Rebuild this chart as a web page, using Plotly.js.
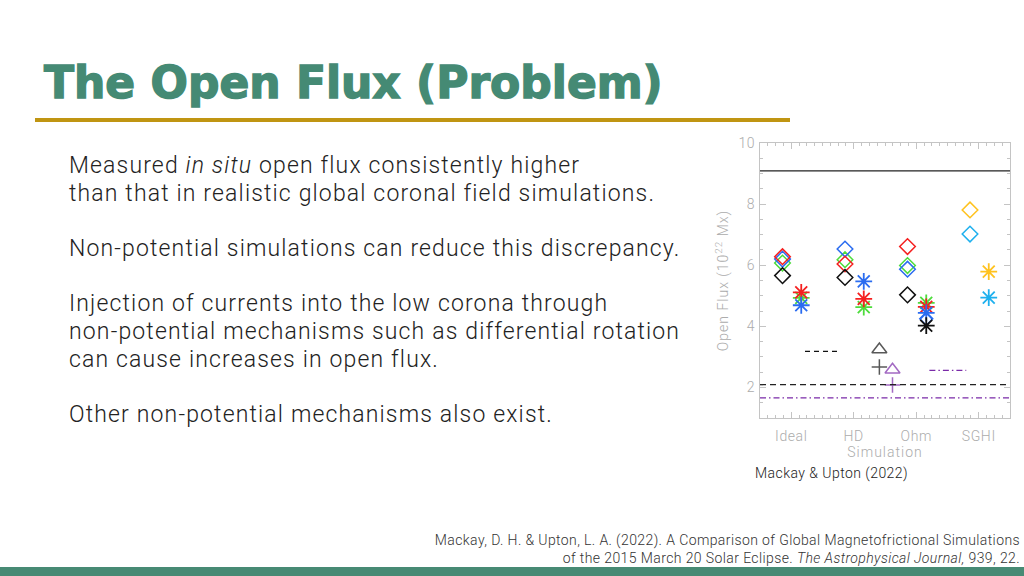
<!DOCTYPE html>
<html><head><meta charset="utf-8">
<script src="https://cdn.plot.ly/plotly-3.0.1.min.js"></script>
<style>
html,body{margin:0;padding:0;background:#fff;}
#slide{position:relative;width:1024px;height:576px;overflow:hidden;}
#chart{position:absolute;left:0;top:0;width:1024px;height:576px;}
.txt{position:absolute;z-index:2;white-space:nowrap;margin:0;}
#title{left:44px;top:57px;font-family:'DejaVu Sans',sans-serif;font-weight:bold;font-size:44px;line-height:52px;
  color:#458a74;-webkit-text-stroke:1.4px #458a74;}
#body{left:69px;top:152px;font-family:Roboto,sans-serif;font-weight:300;font-size:23px;line-height:27.67px;
  color:#222;letter-spacing:1.15px;}
#caption{left:755px;top:464px;font-family:Roboto,sans-serif;font-weight:300;font-size:14px;line-height:18px;
  color:#222;letter-spacing:0.45px;}
#cite{right:4px;top:531px;text-align:right;font-family:Roboto,sans-serif;font-weight:300;font-size:14px;
  line-height:18px;color:#333;letter-spacing:0.4px;}
#chart .xtick text, #chart .ytick text{letter-spacing:0.6px;}
#chart .xtitle, #chart .ytitle{letter-spacing:1px;}
</style>
</head><body>
<div id="slide">
<div id="chart"></div>
<div id="title" class="txt">The Open Flux (Problem)</div>
<div id="body" class="txt">Measured <i>in situ</i> open flux consistently higher<br>than that in realistic global coronal field simulations.<br><br>Non-potential simulations can reduce this discrepancy.<br><br>Injection of currents into the low corona through<br>non-potential mechanisms such as differential rotation<br>can cause increases in open flux.<br><br>Other non-potential mechanisms also exist.</div>
<div id="caption" class="txt">Mackay &amp; Upton (2022)</div>
<div id="cite" class="txt">Mackay, D. H. &amp; Upton, L. A. (2022). A Comparison of Global Magnetofrictional Simulations<br>of the 2015 March 20 Solar Eclipse. <i>The Astrophysical Journal,</i> 939, 22.</div>
</div>
<script>
// ---- data ----
const categories = ['Ideal', 'HD', 'Ohm', 'SGHI'];
// diamonds (left of each category)
const diamondRed    = [6.28, 6.04, 6.61, null];
const diamondBlue   = [6.20, 6.53, 5.87, null];
const diamondGreen  = [6.07, 6.18, 5.99, null];
const diamondBlack  = [5.66, 5.60, 5.03, null];
const diamondOrange = [null, null, null, 7.81];
const diamondCyan   = [null, null, null, 7.02];
// asterisks (right of each category)
const starRed    = [5.11, 4.90, 4.64, null];
const starGreen  = [4.93, 4.63, 4.77, null];
const starBlue   = [4.69, 5.47, 4.44, null];
const starBlack  = [null, null, 4.02, null];
const starOrange = [null, null, null, 5.79];
const starCyan   = [null, null, null, 4.94];
const smallDiamondBlue = [null, null, 4.25, null];
// observational estimates
const solidLevel   = 9.09;
const dashedLevel  = 2.09;
const dashDotLevel = 1.66;
const shortDashLevel = 3.18;
const shortDashRange = [0.22, 0.75];
const shortDashDotLevel = 2.56;
const shortDashDotRange = [2.21, 2.80];
const triangleBlack = 3.24, plusBlack = 2.67;
const trianglePurple = 2.58, plusPurple = 2.08;

const W = 1024, H = 576;
const px = v => v / W, py = v => 1 - v / H;
const leftOff = -0.14, rightOff = 0.16, obsX1 = 1.41, obsX2 = 1.62;

function pts(vals, off, symbol, color, size, lw) {
  return {
    type: 'scatter', mode: 'markers', hoverinfo: 'skip',
    x: categories.map((c, i) => i + off), y: vals,
    marker: {symbol: symbol, size: size, color: color, line: {color: color, width: lw}}
  };
}
function starPts(vals, color) {
  return {
    type: 'scatter', mode: 'markers', hoverinfo: 'skip',
    x: categories.map((c, i) => i + rightOff), y: vals,
    marker: {symbol: 'asterisk-open', size: 14, color: color, line: {color: color, width: 1.8}}
  };
}
const RED = '#f52020', BLUE = '#2a6cf0', GREEN = '#4ddc3c', BLACK = '#111111',
      ORANGE = '#ffc21e', CYAN = '#1eb0ee', PURPLE = '#7a2aa8';

const traces = [
  pts(diamondGreen, leftOff, 'diamond-open', GREEN, 12, 1.5),
  pts(diamondBlue, leftOff, 'diamond-open', BLUE, 12, 1.5),
  pts(diamondRed, leftOff, 'diamond-open', RED, 12, 1.5),
  pts(diamondBlack, leftOff, 'diamond-open', BLACK, 12, 1.5),
  pts(diamondOrange, leftOff, 'diamond-open', ORANGE, 12, 1.5),
  pts(diamondCyan, leftOff, 'diamond-open', CYAN, 12, 1.5),
  starPts(starGreen, GREEN),
  starPts(starRed, RED),
  starPts(starBlue, BLUE),
  pts(smallDiamondBlue, rightOff, 'diamond-open', BLUE, 10, 1.5),
  starPts(starBlack, BLACK),
  starPts(starOrange, ORANGE),
  starPts(starCyan, CYAN),
  {type: 'scatter', mode: 'lines', hoverinfo: 'skip', x: shortDashRange, y: [shortDashLevel, shortDashLevel],
   line: {color: BLACK, width: 1.2, dash: '5px,4px'}},
  {type: 'scatter', mode: 'lines', hoverinfo: 'skip', x: shortDashDotRange, y: [shortDashDotLevel, shortDashDotLevel],
   line: {color: PURPLE, width: 1.2, dash: '6px,3px,1.5px,3px'}},
  {type: 'scatter', mode: 'markers', hoverinfo: 'skip', x: [obsX1, obsX1], y: [triangleBlack, plusBlack],
   marker: {symbol: ['triangle-up-open', 'cross-thin-open'], size: [13, 11], color: BLACK, line: {color: BLACK, width: 1.5}}},
  {type: 'scatter', mode: 'markers', hoverinfo: 'skip', x: [obsX2, obsX2], y: [trianglePurple, plusPurple],
   marker: {symbol: ['triangle-up-open', 'cross-thin-open'], size: [13, 11], color: PURPLE, line: {color: PURPLE, width: 1.5}}}
];

const shapes = [
  {type: 'rect', xref: 'paper', yref: 'paper', x0: px(35), x1: px(790), y0: py(122), y1: py(118),
   fillcolor: '#c09512', line: {width: 0}},
  {type: 'rect', xref: 'paper', yref: 'paper', x0: 0, x1: 1, y0: 0, y1: py(567),
   fillcolor: '#478a74', line: {width: 0}},
  {type: 'line', xref: 'x', yref: 'y', x0: -0.5, x1: 3.5, y0: solidLevel, y1: solidLevel,
   line: {color: '#222', width: 1.3}},
  {type: 'line', xref: 'x', yref: 'y', x0: -0.5, x1: 3.5, y0: dashedLevel, y1: dashedLevel,
   line: {color: '#222', width: 1.3, dash: '6px,4px'}},
  {type: 'line', xref: 'x', yref: 'y', x0: -0.5, x1: 3.5, y0: dashDotLevel, y1: dashDotLevel,
   line: {color: PURPLE, width: 1.2, dash: '6px,3px,1.5px,3px'}}
];

const axisGray = '#c4c4c4', labelGray = '#acacac';
const tickFont = {family: 'Roboto', size: 14, color: labelGray, weight: 300};
const layout = {
  width: W, height: H, margin: {l: 0, r: 0, t: 0, b: 0},
  paper_bgcolor: '#ffffff', plot_bgcolor: '#ffffff', showlegend: false,
  xaxis: {
    domain: [px(760), px(1010)], range: [-0.5, 3.5], tickmode: 'array',
    tickvals: [0, 1, 2, 3], ticktext: categories, ticks: 'inside', ticklen: 6, tickcolor: axisGray,
    minor: {dtick: 0.125, tick0: -0.5, ticks: 'inside', ticklen: 3, tickcolor: axisGray},
    showline: true, linecolor: axisGray, linewidth: 1, mirror: 'allticks', showgrid: false, zeroline: false,
    tickfont: tickFont, ticklabelstandoff: 5,
    title: {text: 'Simulation', font: tickFont, standoff: 3}
  },
  yaxis: {
    domain: [py(418), py(143)], range: [1, 10], tickmode: 'array',
    tickvals: [2, 4, 6, 8, 10], ticktext: ['2', '4', '6', '8', '10'], ticks: 'inside', ticklen: 6, tickcolor: axisGray,
    minor: {dtick: 0.5, tick0: 0, ticks: 'inside', ticklen: 3, tickcolor: axisGray},
    showline: true, linecolor: axisGray, linewidth: 1, mirror: 'allticks', showgrid: false, zeroline: false,
    tickfont: tickFont, ticklabelstandoff: 1,
    title: {text: 'Open Flux (10<sup>22</sup> Mx)', font: tickFont, standoff: 7}
  },
  shapes: shapes
};
Plotly.newPlot('chart', traces, layout, {staticPlot: true, displayModeBar: false});
</script></body></html>
